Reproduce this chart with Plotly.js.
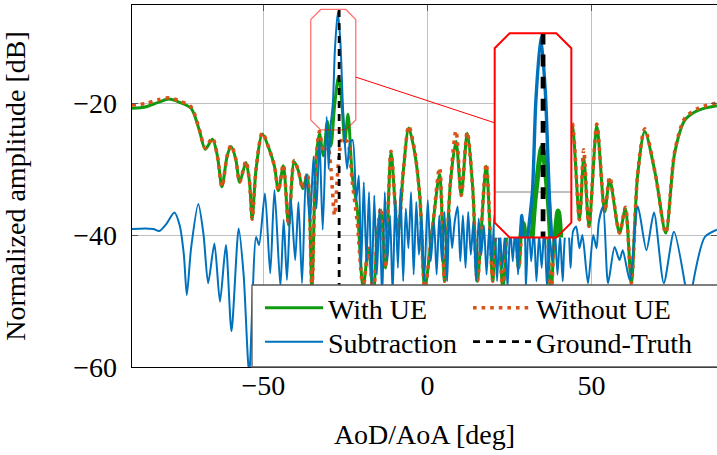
<!DOCTYPE html>
<html><head><meta charset="utf-8">
<script src="https://cdn.plot.ly/plotly-3.0.1.min.js"></script>
<style>html,body{margin:0;padding:0;background:#fff}#chart{width:717px;height:455px}</style>
</head><body><div id="chart"></div>
<script>
// ---------------- data ----------------
const angleUE = [-90, -86, -82, -78.7, -75.5, -72, -69.5, -67.7, -65.5, -64, -62.6, -61, -59.8, -58.4, -57.2, -55.3, -54.2, -53.4, -52.2, -50.3, -48.2, -46.6, -45.4, -43.9, -42.3, -40.6, -39.3, -38.0, -36.6, -35.2, -34.0, -32.9, -31.7, -30.5, -29.4, -28.3, -27.1, -26.0, -25.2, -24.2, -22.9, -21.4, -19.6, -18.0, -16.5, -15.3, -14.2, -12.8, -11.1, -9.0, -7.3, -5.7, -3.9, -2.3, -0.8, 1.6, 3.7, 5.2, 7.0, 8.7, 10.3, 12.1, 13.8, 15.2, 17.9, 19.9, 21.2, 23.0, 25.5, 27.8, 30.0, 32.3, 34.3, 36.0, 37.6, 39.8, 41.5, 44.1, 46.3, 47.6, 49.2, 51.6, 54.0, 55.5, 58.5, 60.3, 62.1, 64.0, 66.2, 69.5, 72.6, 75.3, 78.4, 82.4, 88.2];
const withUE = [-20.8, -20.6, -19.9, -19.4, -19.9, -20.8, -24.1, -27.0, -25.5, -28.0, -32.7, -28.0, -26.6, -28.5, -32.0, -29.0, -32.0, -37.6, -30.0, -24.7, -27.0, -29.6, -33.3, -29.5, -38.5, -28.9, -30.3, -33.0, -30.9, -48.0, -29.0, -24.6, -28.0, -22.8, -26.5, -20.5, -16.0, -20.5, -26.0, -21.7, -31.0, -36.0, -48.0, -42.0, -49.0, -40.0, -36.2, -45.0, -27.6, -40.0, -30.0, -23.8, -27.5, -34.3, -48.0, -38.6, -30.8, -47.0, -32.0, -25.8, -34.0, -24.6, -33.0, -47.0, -29.6, -47.0, -36.0, -48.0, -30.0, -45.0, -27.0, -40.0, -30.0, -34.0, -49.0, -31.0, -35.0, -23.5, -37.7, -28.2, -38.7, -23.5, -36.5, -31.6, -39.7, -36.0, -47.3, -31.0, -24.3, -31.0, -39.7, -27.6, -22.6, -21.1, -20.4];
const withoutUE = [-20.3, -20.1, -19.5, -19.2, -19.7, -20.6, -24.0, -26.8, -25.3, -28.0, -32.7, -28.0, -26.4, -28.5, -32.0, -28.8, -32.0, -37.6, -30.0, -24.5, -27.0, -29.6, -33.3, -29.3, -38.5, -28.7, -30.3, -33.0, -30.7, -48.0, -29.0, -24.3, -27.5, -26.0, -30.0, -37.0, -29.0, -25.3, -25.5, -26.0, -32.0, -38.0, -48.0, -42.0, -49.0, -40.0, -35.9, -45.0, -27.3, -40.0, -30.0, -23.5, -27.2, -34.3, -48.0, -38.6, -29.8, -47.0, -32.0, -24.2, -34.0, -24.4, -33.0, -47.0, -29.2, -47.0, -36.0, -48.0, -30.0, -45.0, -27.0, -40.0, -30.0, -34.0, -49.0, -31.0, -35.0, -23.1, -37.7, -27.1, -38.7, -23.2, -36.5, -31.2, -39.7, -35.8, -47.3, -31.0, -23.9, -31.0, -39.7, -27.4, -22.3, -20.8, -20.0];
const angleSub = [-90, -86, -83.5, -81.7, -79.5, -77.1, -75.5, -74.2, -73.3, -72, -69.8, -68.2, -66.8, -64.9, -63.2, -61.4, -59.7, -57.5, -56, -54.3, -52.2, -51.3, -49.5, -47.9, -46.6, -44.8, -43.8, -42.8, -41.6, -40.3, -39.3, -38.2, -37, -35.8, -34.7, -33.8, -32.9, -31.9, -30.7, -30.1, -29.6, -28.8, -28.2, -27.3, -26.5, -25.8, -25.4, -24.5, -23.6, -22.8, -21.7, -20.9, -20.2, -19.4, -18.6, -17.8, -17, -16.2, -15.4, -14.6, -13.8, -13, -12.2, -11.4, -10.6, -9.8, -9, -8.2, -7.4, -6.6, -5.8, -5, -4.2, -3.4, -2.6, -1.8, -1, 0.1, 1, 2, 2.8, 3.6, 4.4, 5.2, 6, 6.7, 7.5, 8.3, 9.2, 10, 10.8, 11.6, 12.4, 13.2, 14, 14.8, 15.6, 16.4, 17.2, 18, 18.8, 19.6, 20.4, 21.2, 22, 22.8, 23.6, 24.4, 25.2, 26, 26.8, 27.6, 28.4, 29.2, 30, 30.8, 31.6, 32.4, 33.2, 34, 34.8, 35.6, 36.4, 37.2, 38, 38.8, 39.6, 40.4, 41.2, 42.1, 42.8, 43.6, 44.3, 45.3, 46.3, 47.2, 48.9, 50.5, 51.5, 52.2, 53.5, 55, 57, 58.5, 59.5, 61.6, 64.1, 66.7, 69, 72, 75.1, 78.4, 79.8, 80.9, 84.5, 88.2];
const subtraction = [-39.1, -39.0, -39.1, -39.4, -38.3, -36.6, -38.5, -43, -49.1, -42, -35.3, -40, -47.3, -41.3, -50.1, -41.5, -54.6, -39.0, -46, -61, -40.3, -41.5, -33.7, -45.8, -33.2, -47.8, -37.7, -46.8, -34.7, -43.8, -35, -47.3, -30.7, -38, -28.1, -36, -25.6, -39.2, -22.1, -30, -24, -20, -12, -6.2, -11, -20, -24, -30, -26, -25.6, -34.7, -31, -45, -32, -44, -33.5, -48, -34, -46, -36, -50, -33.5, -44, -37, -49, -34.5, -45, -33, -47, -36, -42, -33.5, -46, -35, -43, -37, -47, -34.7, -44, -38, -46, -37, -44, -36.5, -47, -36.7, -42, -38, -35.7, -44, -37, -45, -36.5, -43, -38, -47, -37.5, -43, -38.5, -46, -39, -44, -37, -47, -39, -45, -40, -48, -39, -44, -38, -46, -36.5, -36.7, -48, -38, -44, -39, -47, -40, -45, -38.5, -48, -40, -44, -39, -46, -40, -47, -39.5, -39.2, -45, -39.5, -38.7, -42, -40, -47.3, -40, -42, -38, -35.7, -47.3, -41.8, -43.8, -42.3, -46.8, -35.7, -42.3, -36.6, -47.3, -39.5, -47.3, -52, -47.3, -40.3, -39.2];
const groundTruthAngle = [-26.9, -26.9];
const groundTruthAmp = [-70, 0];
const seriesNames = ['With UE', 'Without UE', 'Subtraction', 'Ground-Truth'];
const xTickVals = [-50, 0, 50];
const yTickVals = [-60, -40, -20];
const xTitle = 'AoD/AoA [deg]';
const yTitle = 'Normalized amplitude [dB]';

// ---------------- styling / layout ----------------
const FAMILY = '"Liberation Serif", "Times New Roman", Tinos, "DejaVu Serif", serif';
const FONT = {family: FAMILY, size: 28, color: '#000'};
const LFONT = {family: FAMILY, size: 28, color: '#000'};
const C_GREEN = '#0f9b0f', C_ORANGE = '#D95319', C_BLUE = '#0072BD';
const MAG = 1.7;
const XR = [-90, 88.2], YR = [-60, -5.15];
const IN_XR = [-35.55, -21.84], IN_YR = [-24.08, -5.82];
const IN_XD = [0.620, 0.751], IN_YD = [0.3574, 0.922];
const PW = 585, PH = 362;
const LEGEND_IDS = ['legend', 'legend2', 'legend3', 'legend4'];

function traces(xa, ya, s, legend) {
  const lg = i => (legend ? LEGEND_IDS[i] : 'legend');
  return [
    {x: angleUE, y: withUE, name: seriesNames[0], type: 'scatter', mode: 'lines', xaxis: xa, yaxis: ya, showlegend: legend, legend: lg(0),
     line: {color: C_GREEN, width: 3 * s, shape: 'spline', smoothing: 0.8}},
    {x: angleUE, y: withoutUE, name: seriesNames[1], type: 'scatter', mode: 'lines', xaxis: xa, yaxis: ya, showlegend: legend, legend: lg(1),
     line: {color: C_ORANGE, width: 3.6 * s, dash: (3.6 * s) + 'px,' + (5 * s) + 'px', shape: 'spline', smoothing: 0.8}},
    {x: angleSub, y: subtraction, name: seriesNames[2], type: 'scatter', mode: 'lines', xaxis: xa, yaxis: ya, showlegend: legend, legend: lg(2),
     line: {color: C_BLUE, width: 2 * s, shape: 'spline', smoothing: 0.7}},
    {x: groundTruthAngle, y: groundTruthAmp, name: seriesNames[3], type: 'scatter', mode: 'lines', xaxis: xa, yaxis: ya, showlegend: legend, legend: lg(3),
     line: {color: '#000', width: 2.8 * s, dash: (7 * s) + 'px,' + (6 * s) + 'px'}}
  ];
}
const data = traces('x', 'y', 1, true).concat(traces('x2', 'y2', MAG, false));

function toPaperMain(x, y) { return [(x - XR[0]) / (XR[1] - XR[0]), (y - YR[0]) / (YR[1] - YR[0])]; }
function toPaperInset(x, y) {
  return [IN_XD[0] + (x - IN_XR[0]) / (IN_XR[1] - IN_XR[0]) * (IN_XD[1] - IN_XD[0]),
          IN_YD[0] + (y - IN_YR[0]) / (IN_YR[1] - IN_YR[0]) * (IN_YD[1] - IN_YD[0])];
}
function octagon(p0, p1, cpx) {
  const cx = cpx / PW, cy = cpx / PH;
  const [x0, y0] = p0, [x1, y1] = p1;
  const pts = [[x0 + cx, y0], [x1 - cx, y0], [x1, y0 + cy], [x1, y1 - cy], [x1 - cx, y1], [x0 + cx, y1], [x0, y1 - cy], [x0, y0 + cy]];
  return 'M' + pts.map(p => p[0].toFixed(5) + ',' + p[1].toFixed(5)).join('L') + 'Z';
}
const sA = toPaperMain(IN_XR[0], IN_YR[0]), sB = toPaperMain(IN_XR[1], IN_YR[1]);
const lA = toPaperInset(IN_XR[0], IN_YR[0]), lB = toPaperInset(IN_XR[1], IN_YR[1]);
const sC = [(sA[0] + sB[0]) / 2, (sA[1] + sB[1]) / 2], lC = [(lA[0] + lB[0]) / 2, (lA[1] + lB[1]) / 2];
function atX(xp) { const t = (xp - sC[0]) / (lC[0] - sC[0]); return sC[1] + t * (lC[1] - sC[1]); }

const legendTop = (367 - 285) / PH;
const shapes = [
  {type: 'rect', xref: 'paper', yref: 'paper', x0: (252 - 132) / PW, x1: 1.1, y0: 0, y1: legendTop,
   fillcolor: '#fff', line: {color: '#555', width: 1.3}, layer: 'above'},
  {type: 'path', xref: 'paper', yref: 'paper', path: octagon(sA, sB, 10), line: {color: 'rgba(255,0,0,0.55)', width: 1.3}, layer: 'above'},
  {type: 'path', xref: 'paper', yref: 'paper', path: octagon(lA, lB, 15), line: {color: '#ff0000', width: 2}, layer: 'above'},
  {type: 'line', xref: 'paper', yref: 'paper', x0: sB[0], y0: atX(sB[0]), x1: lA[0], y1: atX(lA[0]), line: {color: '#ff0000', width: 1}, layer: 'above'}
];

const axisCommon = {showline: true, linecolor: '#000', linewidth: 1.3, mirror: 'ticks', ticks: 'inside', ticklen: 6,
  tickcolor: '#555', tickwidth: 1, showgrid: true, gridcolor: '#c0c0c0', gridwidth: 1, zeroline: false, tickfont: FONT};

// legend slots: [left px of item, top px of item]
const legendSlots = [[260, 283], [468, 283], [260, 317], [468, 317]];
function legendAt(i) {
  return {orientation: 'v', x: (legendSlots[i][0] - 132) / PW, xanchor: 'left', y: (367 - legendSlots[i][1]) / PH, yanchor: 'top',
    bgcolor: 'rgba(0,0,0,0)', borderwidth: 0, font: LFONT, itemwidth: 58, tracegroupgap: 0};
}

const layout = {
  width: 717, height: 455,
  margin: {l: 132, r: 0, t: 5, b: 88, autoexpand: false},
  paper_bgcolor: '#fff', plot_bgcolor: '#fff', font: FONT,
  showlegend: true,
  xaxis: Object.assign({}, axisCommon, {range: XR, tickvals: xTickVals, ticklabelstandoff: -7,
    title: {text: xTitle, font: FONT, standoff: 24}}),
  yaxis: Object.assign({}, axisCommon, {range: YR, tickvals: yTickVals, ticklabelstandoff: 8,
    title: {text: yTitle, font: FONT, standoff: 39}}),
  xaxis2: {domain: IN_XD, anchor: 'y2', range: IN_XR, showline: false, showgrid: false, zeroline: false, showticklabels: false, ticks: ''},
  yaxis2: {domain: IN_YD, anchor: 'x2', range: IN_YR, showline: false, showgrid: true, gridcolor: '#c0c0c0', gridwidth: 1.7,
    tickvals: [-20], zeroline: false, showticklabels: false, ticks: ''},
  legend: legendAt(0), legend2: legendAt(1), legend3: legendAt(2), legend4: legendAt(3),
  shapes: shapes
};

Plotly.newPlot('chart', data, layout, {displayModeBar: false, staticPlot: true});
</script>
</body></html>
